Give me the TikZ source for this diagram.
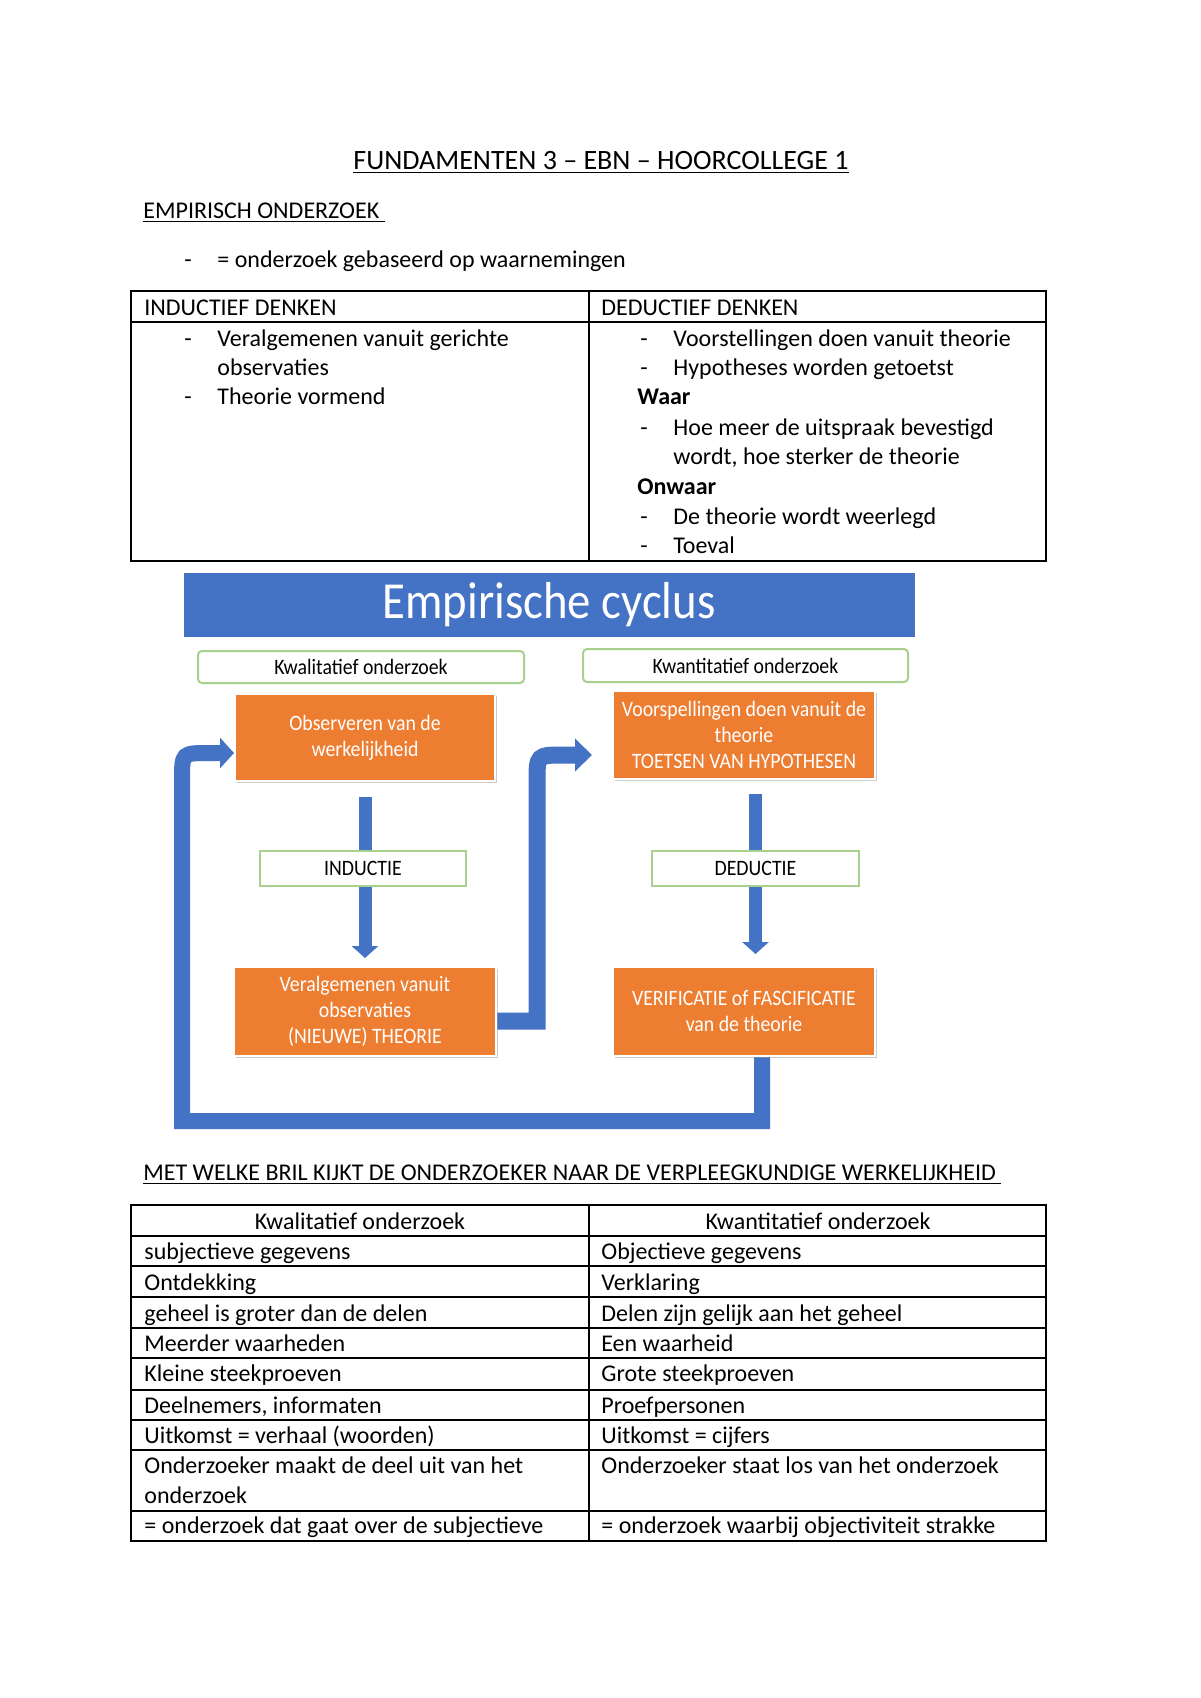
\documentclass[tikz,border=0pt]{standalone}
\usepackage{fontspec}
\setmainfont{Carlito}
\newfontfamily\dfont[FakeStretch=0.9]{Carlito}
\usetikzlibrary{arrows.meta,shadows}
\pgfdeclarelayer{bg}
\pgfsetlayers{bg,main}
\definecolor{cblue}{HTML}{4472C4}
\definecolor{corange}{HTML}{ED7D31}
\definecolor{cgreen}{HTML}{A9D18E}
\tikzset{
  txt/.style={anchor=mid west, inner sep=0pt, yshift=-1.5pt, font=\fontsize{12}{14}\selectfont},
  ctxt/.style={anchor=mid, inner sep=0pt, yshift=-1.5pt, font=\fontsize{12}{14}\selectfont},
  hd/.style={anchor=mid west, inner sep=0pt, yshift=-1.5pt, font=\fontsize{12}{14}\selectfont},
  tbl/.style={line width=1pt, line cap=rect},
  obox/.style={fill=corange, draw=white, line width=1pt, text=white, align=center,
    font=\dfont\fontsize{11}{13}\selectfont, inner sep=0pt,
    drop shadow={shadow xshift=1.2pt, shadow yshift=-1.2pt, fill=black!40, opacity=.5}},
  gbox/.style={fill=white, draw=cgreen, line width=1pt, rounded corners=2pt, inner sep=0pt,
    font=\dfont\fontsize{11}{13}\selectfont},
  conn/.style={draw=cblue, line width=8pt, line join=miter},
  dnarrow/.style={draw=cblue, line width=6.5pt, -{Triangle[width=13pt,length=6pt]}},
}
\begin{document}
\begin{tikzpicture}[x=0.5pt,y=-0.5pt]
\useasboundingbox (0,0) rectangle (1200,1698);
\begin{pgfonlayer}{bg}
\fill[white] (0,0) rectangle (1200,1698);
\end{pgfonlayer}

% headings
\node[anchor=mid, inner sep=0pt, yshift=-2pt, font=\fontsize{14}{17}\selectfont] (title) at (601,161) {\underline{FUNDAMENTEN 3 – EBN – HOORCOLLEGE 1}};
\node[hd] (h1) at (143,211) {\underline{EMPIRISCH ONDERZOEK\ }};
\node[txt] (b0) at (184,260) {-};
\node[txt] (t0) at (217,260) {= onderzoek gebaseerd op waarnemingen};

% table 1
\draw[tbl] (131,291) rectangle (1046,561);
\draw[tbl] (131,322) -- (1046,322);
\draw[tbl] (589,291) -- (589,561);
\node[txt] (th1) at (144,308) {INDUCTIEF DENKEN};
\node[txt] (th2) at (601,308) {DEDUCTIEF DENKEN};
\node[txt] (lb1) at (184,339) {-};
\node[txt] (l1) at (217,339) {Veralgemenen vanuit gerichte};
\node[txt] (l2) at (217,368) {observaties};
\node[txt] (lb3) at (184,397) {-};
\node[txt] (l3) at (217,397) {Theorie vormend};
\node[txt] (rb1) at (640,339) {-};
\node[txt] (r1) at (673,339) {Voorstellingen doen vanuit theorie};
\node[txt] (rb2) at (640,368) {-};
\node[txt] (r2) at (673,368) {Hypotheses worden getoetst};
\node[txt, font=\bfseries\fontsize{12}{14}\selectfont] (r3) at (637,397) {Waar};
\node[txt] (rb4) at (640,428) {-};
\node[txt] (r4) at (673,428) {Hoe meer de uitspraak bevestigd};
\node[txt] (r5) at (673,457) {wordt, hoe sterker de theorie};
\node[txt, font=\bfseries\fontsize{12}{14}\selectfont] (r6) at (637,487) {Onwaar};
\node[txt] (rb7) at (640,517) {-};
\node[txt] (r7) at (673,517) {De theorie wordt weerlegd};
\node[txt] (rb8) at (640,546) {-};
\node[txt] (r8) at (673,546) {Toeval};

% diagram
\node[fill=cblue, draw=white, line width=1.5pt, minimum width=367pt, minimum height=33.5pt, inner sep=0pt,
  text=white, font=\dfont\fontsize{26}{30}\selectfont,
  drop shadow={shadow xshift=1.2pt, shadow yshift=-1.2pt, fill=black!40, opacity=.5}] (banner) at (549,604.5) {Empirische cyclus};
\node[gbox, minimum width=163pt, minimum height=16pt] (kwal) at (361,667) {Kwalitatief onderzoek};
\node[gbox, minimum width=162.5pt, minimum height=16.5pt] (kwan) at (745.5,665.5) {Kwantitatief onderzoek};
\node[obox, minimum width=130pt, minimum height=43.5pt] (obs) at (365,737.5) {Observeren van de\\werkelijkheid};
\node[obox, minimum width=131pt, minimum height=44pt] (voor) at (744,735) {Voorspellingen doen vanuit de\\theorie\\TOETSEN VAN HYPOTHESEN};
\node[obox, minimum width=131pt, minimum height=44.5pt] (ver) at (365,1011.5) {Veralgemenen vanuit\\observaties\\(NIEUWE) THEORIE};
\node[obox, minimum width=131pt, minimum height=44.5pt] (vf) at (744,1011.5) {VERIFICATIE of FASCIFICATIE\\van de theorie};
\node[gbox, rounded corners=0pt, minimum width=103pt, minimum height=17.5pt] (ind) at (363,868.5) {INDUCTIE};
\node[gbox, rounded corners=0pt, minimum width=103.5pt, minimum height=17.5pt] (ded) at (755.5,868.5) {DEDUCTIE};

\coordinate (la) at (182,753);
\coordinate (lt) at (obs.west |- la);
\coordinate (lb) at (762,1121);
\coordinate (mt) at (592,755);
\coordinate (d1) at (voor.south -| ded.center);
\coordinate (d2) at (vf.north -| ded.center);

\begin{pgfonlayer}{bg}
\draw[dnarrow] ([yshift=-7.5pt]obs.south) -- ([yshift=4pt]ver.north);
\draw[dnarrow] ([yshift=-7pt]d1) -- ([yshift=6pt]d2);
\draw[conn, -{Triangle[width=15pt,length=7pt]}] (vf.south -| lb) -- (lb) -- (182,1121) -- (182,780)
  .. controls (182,753) .. (209,753) -- (lt);
\draw[conn, line width=8.5pt, -{Triangle[width=16pt,length=8.5pt]}] (ver.east |- 0,1021) -- (537,1021) -- (537,782)
  .. controls (537,755) .. (564,755) -- (mt);
\end{pgfonlayer}

% heading 2
\node[hd] (h2) at (143,1173) {\underline{MET WELKE BRIL KIJKT DE ONDERZOEKER NAAR DE VERPLEEGKUNDIGE WERKELIJKHEID\ }};

% table 2
\draw[tbl] (131,1205) rectangle (1046,1541);
\foreach \yy in {1236,1266,1297,1328,1358,1390,1420,1450,1511}
  \draw[tbl] (131,\yy) -- (1046,\yy);
\draw[tbl] (589,1205) -- (589,1541);
\node[ctxt] (k1) at (360,1222) {Kwalitatief onderzoek};
\node[ctxt] (k2) at (818,1222) {Kwantitatief onderzoek};
\node[txt] (a1) at (144,1252) {subjectieve gegevens};
\node[txt] (b1) at (601,1252) {Objectieve gegevens};
\node[txt] (a2) at (144,1283) {Ontdekking};
\node[txt] (b2) at (601,1283) {Verklaring};
\node[txt] (a3) at (144,1314) {geheel is groter dan de delen};
\node[txt] (b3) at (601,1314) {Delen zijn gelijk aan het geheel};
\node[txt] (a4) at (144,1344) {Meerder waarheden};
\node[txt] (b4) at (601,1344) {Een waarheid};
\node[txt] (a5) at (144,1374) {Kleine steekproeven};
\node[txt] (b5) at (601,1374) {Grote steekproeven};
\node[txt] (a6) at (144,1406) {Deelnemers, informaten};
\node[txt] (b6) at (601,1406) {Proefpersonen};
\node[txt] (a7) at (144,1436) {Uitkomst = verhaal (woorden)};
\node[txt] (b7) at (601,1436) {Uitkomst = cijfers};
\node[txt] (a8) at (144,1466) {Onderzoeker maakt de deel uit van het};
\node[txt] (a8b) at (144,1496) {onderzoek};
\node[txt] (b8) at (601,1466) {Onderzoeker staat los van het onderzoek};
\node[txt] (a9) at (144,1526) {= onderzoek dat gaat over de subjectieve};
\node[txt] (b9) at (601,1526) {= onderzoek waarbij objectiviteit strakke};
\end{tikzpicture}
\end{document}
